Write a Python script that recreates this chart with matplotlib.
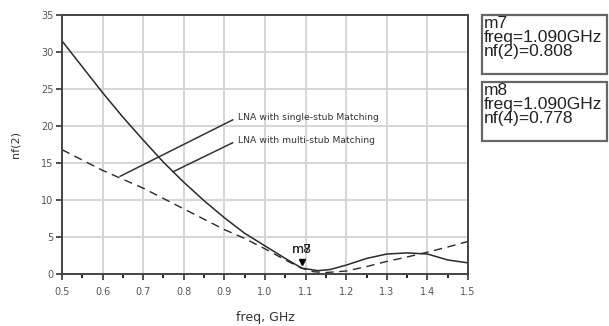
import matplotlib
matplotlib.use("Agg")
import matplotlib.pyplot as plt
from matplotlib import transforms
import numpy as np

plt.rcParams['font.family'] = ['DejaVu Sans']

# multi-stub matching (solid)
freq_multi = [0.5, 0.55, 0.6, 0.65, 0.7, 0.75, 0.8, 0.85, 0.9, 0.95, 1.0, 1.05, 1.09, 1.13, 1.16,
              1.2, 1.25, 1.3, 1.35, 1.4, 1.45, 1.5]
nf_multi = [31.5, 28.0, 24.5, 21.2, 18.1, 15.1, 12.4, 9.9, 7.6, 5.5, 3.8, 2.1, 0.81, 0.45, 0.6,
            1.2, 2.1, 2.7, 2.85, 2.7, 1.9, 1.5]

# single-stub matching (dashed)
freq_single = [0.5, 0.55, 0.6, 0.65, 0.7, 0.75, 0.8, 0.85, 0.9, 0.95, 1.0, 1.05, 1.09, 1.12, 1.15,
               1.2, 1.25, 1.3, 1.35, 1.4, 1.45, 1.5]
nf_single = [16.8, 15.4, 14.0, 12.8, 11.6, 10.2, 8.8, 7.4, 6.0, 4.8, 3.4, 1.9, 0.78, 0.3, 0.2,
             0.4, 1.0, 1.7, 2.3, 2.95, 3.65, 4.4]

mark_freq = 1.09
mark_nf = 0.808

fig = plt.figure(figsize=(6.09, 3.26), dpi=100)
ax = fig.add_axes([62/609, 1 - 274/326, 406/609, 259/326])

ax.plot(freq_multi, nf_multi, color='#2a2a2a', lw=1.1)
ax.plot(freq_single, nf_single, color='#2a2a2a', lw=1.0, ls=(0, (6, 4)))

# marker triangle sits just above the point
up = transforms.offset_copy(ax.transData, fig=fig, x=0, y=4, units='points')
ax.plot([mark_freq], [mark_nf], marker='v', color='black', ms=5, transform=up, clip_on=False)
ax.text(mark_freq, mark_nf + 1.6, 'm7', fontsize=9, ha='center', va='bottom', color='#222222')
ax.text(mark_freq, mark_nf + 1.6, 'm8', fontsize=9, ha='center', va='bottom', color='#222222')

ax.set_xlim(0.5, 1.5)
ax.set_ylim(0, 35)
ax.set_xticks(np.arange(0.5, 1.51, 0.1))
ax.set_xticks(np.arange(0.55, 1.5, 0.1), minor=True)
ax.set_yticks(np.arange(0, 36, 5))
ax.set_xticklabels(['%.1f' % v for v in np.arange(0.5, 1.51, 0.1)])
ax.grid(True, color='#d6d6d6', lw=1.4)
ax.set_axisbelow(True)
ax.tick_params(axis='both', labelsize=7, direction='out', length=4.5, width=1.2, colors='#333333',
               labelcolor='#555555')
ax.tick_params(axis='x', pad=5)
ax.tick_params(axis='y', pad=1.5)
ax.tick_params(axis='x', which='minor', direction='out', length=3, width=1.2)
for s in ax.spines.values():
    s.set_color('#444444')
    s.set_linewidth(1.4)

ax.set_xlabel('freq, GHz', fontsize=9, color='#333333', labelpad=10)
ax.set_ylabel('nf(2)', fontsize=8, color='#333333', labelpad=15)

# annotations
ax.annotate('LNA with single-stub Matching', xy=(0.643, 13.2), xytext=(0.934, 21.2),
            fontsize=6.7, va='center', color='#333333',
            arrowprops=dict(arrowstyle='-', color='#333333', lw=1.1, shrinkA=2, shrinkB=0,
                            relpos=(0, 0.5)))
ax.annotate('LNA with multi-stub Matching', xy=(0.773, 13.8), xytext=(0.934, 18.1),
            fontsize=6.7, va='center', color='#333333',
            arrowprops=dict(arrowstyle='-', color='#333333', lw=1.1, shrinkA=2, shrinkB=0,
                            relpos=(0, 0.5)))

# marker readout boxes
boxes = [('m7\nfreq=1.090GHz\nnf(2)=0.808', 15), ('m8\nfreq=1.090GHz\nnf(4)=0.778', 82)]
for txt, ytop in boxes:
    fig.patches.append(plt.Rectangle((482/609, 1 - (ytop + 59)/326), 125/609, 59/326,
                                     transform=fig.transFigure, fill=False,
                                     edgecolor='#666666', lw=1.6))
    fig.text(484/609, 1 - (ytop + 1)/326, txt, fontsize=12.5, va='top', ha='left',
             linespacing=0.92, color='#222222', family=['Liberation Sans', 'DejaVu Sans'])

fig.savefig('out.png', dpi=100)
